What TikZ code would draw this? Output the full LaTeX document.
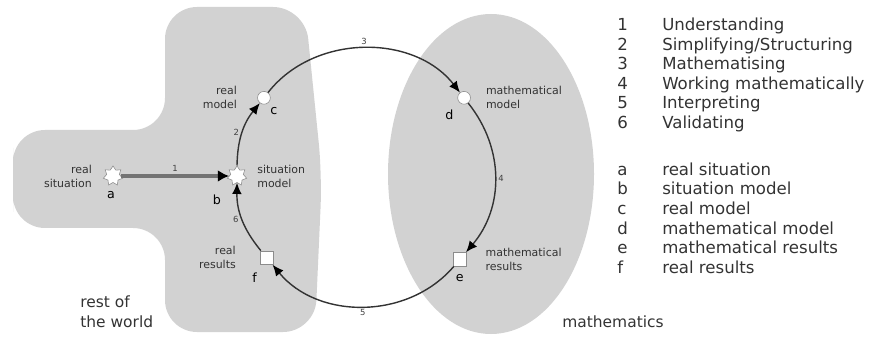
\documentclass[tikz,border=0pt]{standalone}
\usepackage{fontspec}
\setmainfont{DejaVu Sans}
\usepackage{xcolor}
\usepackage{tikz}
\usetikzlibrary{shapes.geometric, arrows.meta, positioning, calc}

\begin{document}
\begin{tikzpicture}[
    region/.style={fill=gray!35, draw=none},
    sitnode/.style={star, star points=7, star point ratio=1.55, minimum size=0.5cm, inner sep=0pt, draw=black!45, fill=white, thin},
    modnode/.style={circle, minimum size=0.32cm, inner sep=0pt, draw=black!45, fill=white, thin},
    resnode/.style={rectangle, minimum size=0.34cm, inner sep=0pt, draw=black!45, fill=white, thin},
    desc/.style={font=\fontsize{7.8}{10}\selectfont, text=black!80, inner sep=0pt},
    tag/.style={font=\fontsize{9}{10}\selectfont, inner sep=0pt},
    num/.style={font=\fontsize{6}{7}\selectfont, text=black!75, inner sep=2pt},
    flow/.style={draw=black!80, line width=1pt, -{Latex[color=black, length=2.8mm, width=2.4mm]}},
    entry/.style={draw=black!55, line width=2.8pt, -{Latex[color=black, length=2.8mm, width=3mm]}},
    areaname/.style={font=\fontsize{11}{14}\selectfont, text=black!80, align=left, inner sep=0pt}
]
\useasboundingbox (0,0) rectangle (21.8,8.4);

% Regions
\fill[region, rounded corners=0.8cm] (0.325,3.9) -- (0.325,5.15) -- (4.125,5.15) -- (4.125,8.225)
    -- (7.625,8.225) -- (8.05,4.025) -- (7.875,0.1) -- (4.125,0.1) -- (4.125,2.7)
    -- (0.325,2.7) -- cycle;
\fill[region] (12.275,4.05) ellipse [x radius=2.575cm, y radius=4.0cm];

\node[areaname, anchor=west] (world) at (2.0,0.6) {rest of\\the world};
\node[areaname, anchor=west] (maths) at (14.05,0.35) {mathematics};

% Nodes
\coordinate (o) at (9.1,4.0);
\node[sitnode] (a) at (2.825,4.0) {};
\node[sitnode] (b) at ($(o)+(180:3.175)$) {};
\node[modnode] (c) at ($(o)+(142:3.175)$) {};
\node[modnode] (d) at ($(o)+(38:3.175)$) {};
\node[resnode] (e) at ($(o)+(-41:3.175)$) {};
\node[resnode] (f) at ($(o)+(-140:3.175)$) {};

% Node labels
\node[desc, left=0.32cm of a, align=right] (alab) {real\\situation};
\node[desc, right=0.3cm of b, align=left] (blab) {situation\\model};
\node[desc, left=0.5cm of c, align=right] (clab) {real\\model};
\node[desc, right=0.375cm of d, align=left] (dlab) {mathematical\\model};
\node[desc, right=0.46cm of e, align=left] (elab) {mathematical\\results};
\node[desc, left=0.59cm of f, align=right] (flab) {real\\results};

\node[tag] (atag) at ($(a)+(-0.05,-0.47)$) {a};
\node[tag] (btag) at ($(b)+(-0.5,-0.6)$) {b};
\node[tag] (ctag) at ($(c)+(0.25,-0.33)$) {c};
\node[tag] (dtag) at ($(d)+(-0.37,-0.42)$) {d};
\node[tag] (etag) at ($(e)+(0,-0.47)$) {e};
\node[tag] (ftag) at ($(f)+(-0.3,-0.5)$) {f};

% Arrows
\draw[entry] (a) -- node[num, above] {1} (b);
\draw[flow] (b) to[bend left=19] node[num, left] {2} (c);
\draw[flow] (c) to[bend left=52] node[num, above] {3} (d);
\draw[flow] (d) to[bend left=39.5] node[num, right] {4} (e);
\draw[flow] (e) to[bend left=50] node[num, below] {5} (f);
\draw[flow] (f) to[bend left=20] node[num, left] {6} (b);

% Legend
\node[anchor=base west, inner sep=0pt, text=black!80, font=\fontsize{11.8}{13.9}\selectfont] (legend) at (15.425,7.63) {
    \begin{tabular}[t]{@{}p{1.125cm}@{}l@{}}
    1 & Understanding \\
    2 & Simplifying/Structuring \\
    3 & Mathematising \\
    4 & Working mathematically \\
    5 & Interpreting \\
    6 & Validating \\[19.5pt]
    a & real situation \\
    b & situation model \\
    c & real model \\
    d & mathematical model \\
    e & mathematical results \\
    f & real results
    \end{tabular}
};

\end{tikzpicture}
\end{document}
